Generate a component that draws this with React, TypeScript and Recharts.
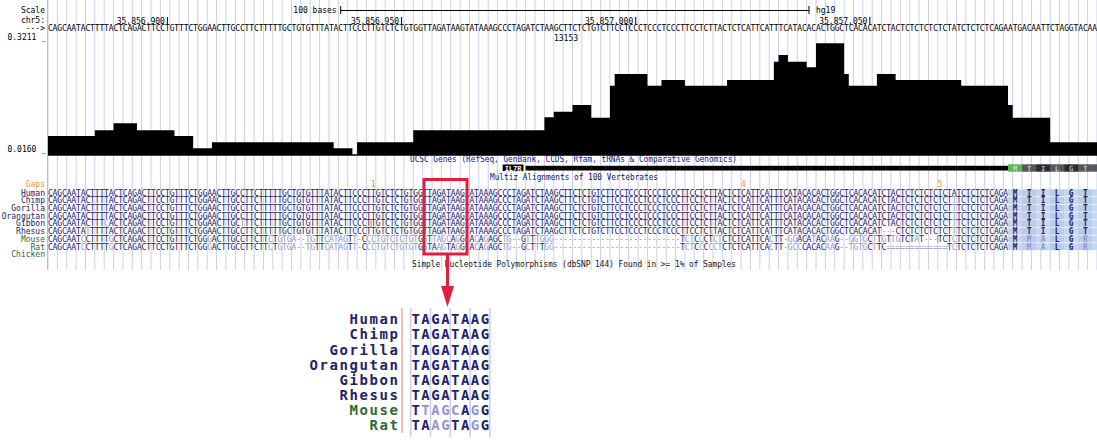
import React from 'react';
import { AreaChart, Area, XAxis, YAxis, CartesianGrid } from 'recharts';

const WIDTH = 1097;
const HEIGHT = 441;
const BASES = 224;
const CELL = 1049 / BASES;
const CDS_START = 205;

// conservation wiggle: step start (base offset from 35,856,875) and value
const consStarts = [0, 10, 14, 19, 27, 31, 35, 61, 65, 66, 78, 106, 108, 112, 116, 120, 121, 128, 131, 136, 145, 155, 156, 158, 162, 164, 170, 171, 177, 181, 195, 205, 206, 214, 224];
const consValues = [0.063, 0.0788, 0.0975, 0.0788, 0.063, 0.0296, 0.0459, 0.0296, 0.0133, 0.0459, 0.0788, 0.1138, 0.129, 0.1472, 0.1127, 0.1997, 0.2315, 0.1997, 0.2152, 0.1997, 0.2152, 0.2649, 0.2831, 0.2649, 0.2497, 0.3149, 0.2315, 0.1997, 0.2315, 0.2152, 0.1997, 0.1472, 0.1127, 0.0459, 0.0459];
const rangeValues = [0.3211, 0.016];
const rangeLabels = ['0.3211', '0.0160'];

const coordOffsets = [25, 75, 125, 175];
const coordLabels = ['35,856,900', '35,856,950', '35,857,000', '35,857,050'];

const humanSeq = [
  'CAGCAATACT', 'TTTACTCAGA', 'CTTCCTGTTT', 'CTGGAACTTG', 'CCTTCTTTTT', 'GCTGTGTTTA',
  'TACTTCCCTT', 'GTCTCTGTGG', 'TTAGATAAGT', 'ATAAAGCCCT', 'AGATCTAAGC', 'TTCTCTGTCT',
  'TCCTCCCTCC', 'CTCCCTTCCT', 'CTTACTCTCA', 'TTCATTTCAT', 'ACACACTGGC', 'TCACACATCT',
  'ACTCTCTCTC', 'TCTATCTCTC', 'TCAGAATGAC', 'AATTCTAGGT', 'ACAA',
].join('');

const mouseSeq = [
  'CAGCAATCCT', 'TTTGCTCAGA', 'CTTCCTGTTT', 'CTGGGACTTG', 'CCTTCTTCTG', 'TGA--TGTTC',
  'ATAGTT-CCCTGTCTCTGTGG', 'TTAGCAGG', 'CACAGAGCTG--GTTTGGG', '---------------------------',
  'TCTCCCTC', 'TCTCTCATTC', 'ACTT-GGACA', 'TACAAG--GG', 'TGCTTGTTGT', 'CTAT---TCT', 'CTCTCTCTCA', 'GA',
].join('');

const ratSeq = [
  'CAGCAATCCT', 'TTTGCTCAGA', 'CTTCCTGTTT', 'CTGGGACTTG', 'CCTTCTTCTG', 'TGA--TGTTC',
  'ATAGTT-CCCTGTCTGTGTGG', 'TAAGTAGG', 'CACAGAGCTG--GCTTTGG', '---------------------------',
  'TCTCCCCC', 'TCTCTCATTC', 'ACTT-GCCCA', 'CACAAG--TG', 'TGCTTC====', '=========T', 'CTCTCTCTCA', 'GA',
].join('');

const species = ['Human', 'Chimp', 'Gorilla', 'Orangutan', 'Gibbon', 'Rhesus', 'Mouse', 'Rat', 'Chicken'];
const greenSpecies = ['Mouse', 'Rat', 'Chicken'];
const speciesEdits: Record<string, [number, string][]> = {
  Human: [],
  Chimp: [[193, 'T']],
  Gorilla: [[193, 'T']],
  Orangutan: [[127, 'T'], [193, 'T']],
  Gibbon: [[12, 'C'], [41, 'T'], [193, 'T']],
  Rhesus: [[8, 'T'], [178, '---'], [193, 'T']],
};
const speciesAA: Record<string, string> = {
  Human: 'MTILGT', Chimp: 'MTILGT', Gorilla: 'MTILGT', Orangutan: 'MTILGT',
  Gibbon: 'MTILGT', Rhesus: 'MTILGT', Mouse: 'MMALGR', Rat: 'MMALGR', Chicken: '',
};
const insertRows = ['Gibbon', 'Mouse'];
const insertOffsets = [69, 190];
const gapOffsets = [69, 148, 190];
const gapCounts = ['1', '4', '5'];
const geneStart = 102;
const geneAA = 'MTILGT';

const boxStart = 81;
const boxLen = 8;

const applyEdits = (seq: string, edits: [number, string][]) =>
  edits.reduce((s, [o, t]) => s.slice(0, o) + t + s.slice(o + t.length), seq);

const alignSeqs = species.map((name) => {
  if (name === 'Mouse') return mouseSeq;
  if (name === 'Rat') return ratSeq;
  if (name === 'Chicken') return '';
  return applyEdits(humanSeq.slice(0, CDS_START), speciesEdits[name]);
});

const consData = consStarts.map((pos, k) => ({ pos, cons: consValues[k] }));
const baseTicks = Array.from({ length: BASES }, (_, i) => i + 0.5);
const gridTicks = Array.from({ length: BASES / 2 - 1 }, (_, i) => (i + 1) * 2);

const FONT = '"DejaVu Sans Mono", monospace';
const DARK = '#23236a';
const LIGHT = '#9595d0';
const GREEN = '#2e6b34';
const ORANGE = '#f0952a';
const GRID = '#cdcdf0';
const ROW0 = 192.7;
const ROWSTEP = 7.7;

const rowY = (r: number) => ROW0 + r * ROWSTEP;

const renderBaseTick = (props: any) => {
  const { x, payload } = props;
  const i = Math.floor(payload.value);
  const half = CELL / 2;
  const out: React.ReactNode[] = [];
  out.push(
    <text key="ruler" x={x} y={31} textAnchor="middle" fontFamily={FONT} fontSize={8} fill="#000">{humanSeq[i]}</text>
  );
  const c = coordOffsets.indexOf(i);
  if (c >= 0) {
    out.push(<text key="coord" x={x - 2.5} y={24} textAnchor="end" fontFamily={FONT} fontSize={8} fill="#000">{coordLabels[c]}</text>);
    out.push(<line key="coordbar" x1={x} x2={x} y1={17} y2={25} stroke="#000" strokeWidth={1} />);
  }
  if (i === 62) {
    const x2 = x + 100 * CELL;
    out.push(<text key="sc" x={x - 4} y={13} textAnchor="end" fontFamily={FONT} fontSize={8} fill="#000">100 bases</text>);
    out.push(<line key="sl" x1={x} x2={x2} y1={10.5} y2={10.5} stroke="#000" strokeWidth={1} />);
    out.push(<line key="sa" x1={x} x2={x} y1={6} y2={14} stroke="#000" strokeWidth={1} />);
    out.push(<line key="sb" x1={x2} x2={x2} y1={6} y2={14} stroke="#000" strokeWidth={1} />);
    out.push(<text key="hg" x={x2 + 7} y={13} fontFamily={FONT} fontSize={8} fill="#000">hg19</text>);
  }
  const g = gapOffsets.indexOf(i);
  if (g >= 0) {
    out.push(<text key="gap" x={x} y={187} textAnchor="middle" fontFamily={FONT} fontSize={8} fill={ORANGE}>{gapCounts[g]}</text>);
  }
  // gene track
  if (i >= geneStart && i < CDS_START) {
    out.push(<rect key="gene" x={x - half} y={165.8} width={CELL + 0.4} height={4.7} fill="#000" />);
  }
  if (i >= CDS_START) {
    const codon = Math.min(Math.floor((i - CDS_START) / 3), geneAA.length - 1);
    const fill = codon === 0 ? '#5ab54c' : codon % 2 === 1 ? '#575757' : '#2b2b2b';
    out.push(<rect key="cds" x={x - half} y={164.3} width={CELL + 0.4} height={7.4} fill={fill} />);
    if ((i - CDS_START) % 3 === 1 && codon < geneAA.length) {
      out.push(<text key="cdsaa" x={x} y={170.6} textAnchor="middle" fontFamily={FONT} fontSize={7} fill="#e6e6e6">{geneAA[codon]}</text>);
    }
  }
  species.forEach((name, r) => {
    const seq = alignSeqs[r];
    if (!seq) return;
    const y = rowY(r);
    if (i < CDS_START) {
      const ch = seq[i];
      const light = r > 0 && ch !== humanSeq[i];
      out.push(
        <text key={'s' + r} x={x} y={y + 2.9} textAnchor="middle" fontFamily={FONT} fontSize={8} fill={light ? LIGHT : DARK}>{ch}</text>
      );
    } else {
      const codon = Math.floor((i - CDS_START) / 3);
      out.push(<rect key={'bg' + r} x={x - half} y={y - 3.4} width={CELL + 0.4} height={7} fill={codon % 2 ? '#b9cdea' : '#c7d7ef'} />);
      const aa = speciesAA[name];
      if ((i - CDS_START) % 3 === 1 && codon < aa.length) {
        const light = aa[codon] !== speciesAA.Human[codon];
        out.push(
          <text key={'a' + r} x={x} y={y + 2.9} textAnchor="middle" fontFamily={FONT} fontSize={8} fontWeight="bold" fill={light ? LIGHT : DARK}>{aa[codon]}</text>
        );
      }
    }
    const ins = insertRows.indexOf(name);
    if (ins >= 0 && insertOffsets[ins] === i) {
      out.push(<line key={'ins' + r} x1={x - half} x2={x - half} y1={y - 3.5} y2={y + 3.5} stroke={ORANGE} strokeWidth={1.3} />);
    }
  });
  return <g>{out}</g>;
};

const renderEmptyTick = () => <g />;

const renderValueTick = (props: any) => {
  const { y, payload } = props;
  const k = rangeValues.findIndex((v) => Math.abs(v - payload.value) < 1e-9);
  return (
    <text x={46} y={y - 1.2} textAnchor="end" fontFamily={FONT} fontSize={8} fill="#000">{rangeLabels[k] + ' _'}</text>
  );
};

function Overlay() {
  const small = { fontFamily: FONT, fontSize: 8 };
  const zx = 410.7;
  const zw = 9.9;
  const zy0 = 319.3;
  const zdy = 15.1;
  const zoomRows = species.slice(0, 8);
  return (
    <svg width={WIDTH} height={HEIGHT} style={{ position: 'absolute', left: 0, top: 0 }}>
      <line x1={47.5} x2={47.5} y1={0} y2={270} stroke="#f4a6a6" strokeWidth={1} />
      <text x={45} y={13} textAnchor="end" fill="#000" {...small}>Scale</text>
      <text x={45} y={23} textAnchor="end" fill="#000" {...small}>chr5:</text>
      <text x={45} y={31} textAnchor="end" fill="#000" {...small}>---&gt;</text>
      <text x={566} y={41} textAnchor="middle" fill="#000" {...small}>13153</text>
      <text x={410} y={162} fill="#14147a" textLength={327} lengthAdjust="spacingAndGlyphs" {...small}>
        UCSC Genes (RefSeq, GenBank, CCDS, Rfam, tRNAs &amp; Comparative Genomics)
      </text>
      <rect x={502.7} y={164.5} width={20.8} height={6.6} fill="#000" />
      <text x={513.1} y={170.5} textAnchor="middle" fill="#fff" fontFamily={FONT} fontSize={7} fontWeight="bold">IL7R</text>
      <text x={490} y={179.5} fill="#101060" textLength={168} lengthAdjust="spacingAndGlyphs" {...small}>
        Multiz Alignments of 100 Vertebrates
      </text>
      <text x={45} y={187} textAnchor="end" fill={ORANGE} {...small}>Gaps</text>
      {species.map((name, r) => (
        <text key={name} x={45} y={rowY(r) + 2.9} textAnchor="end" fill={greenSpecies.includes(name) ? GREEN : DARK} {...small}>
          {name}
        </text>
      ))}
      <text x={412} y={267} fill="#111" textLength={324} lengthAdjust="spacingAndGlyphs" {...small}>
        Simple Nucleotide Polymorphisms (dbSNP 144) Found in &gt;= 1% of Samples
      </text>

      <rect x={424} y={179.5} width={43} height={74.5} fill="none" stroke="#e31e3c" strokeWidth={3} />
      <rect x={446} y={255} width={3} height={32} fill="#e31e3c" />
      <polygon points="441,286 454,286 447.5,307" fill="#e31e3c" />

      {[0, 2, 4, 6, 8].map((k) => (
        <line key={'zg' + k} x1={zx + k * zw} x2={zx + k * zw} y1={308} y2={437} stroke={GRID} strokeWidth={1.5} />
      ))}
      <line x1={402} x2={402} y1={308} y2={433} stroke="#f4a6a6" strokeWidth={1.5} />
      {zoomRows.map((name, r) => {
        const y = zy0 + r * zdy + 5;
        const seq = alignSeqs[r].slice(boxStart, boxStart + boxLen);
        const ref = humanSeq.slice(boxStart, boxStart + boxLen);
        return (
          <g key={'z' + name}>
            <text x={398} y={y} textAnchor="end" fontFamily={FONT} fontSize={14} fontWeight="bold"
              textLength={name.length * 10 - 1.5} lengthAdjust="spacing"
              fill={greenSpecies.includes(name) ? GREEN : DARK}>{name}</text>
            {seq.split('').map((ch, k) => (
              <text key={k} x={zx + k * zw + zw / 2} y={y} textAnchor="middle" fontFamily={FONT} fontSize={14} fontWeight="bold"
                fill={ch !== ref[k] ? LIGHT : DARK}>{ch}</text>
            ))}
          </g>
        );
      })}
    </svg>
  );
}

export default function App() {
  return (
    <div style={{ position: 'absolute', left: 0, top: 0, width: WIDTH, height: HEIGHT, background: '#fff' }}>
      <AreaChart width={WIDTH} height={HEIGHT} data={consData} margin={{ top: 0, right: 0, bottom: 169, left: 0 }}>
        <CartesianGrid xAxisId="g" yAxisId="v" horizontal={false} stroke={GRID} />
        <XAxis xAxisId="g" type="number" dataKey="pos" domain={[0, BASES]} ticks={gridTicks} interval={0}
          tick={renderEmptyTick} tickLine={false} axisLine={false} height={1} allowDataOverflow />
        <XAxis xAxisId="b" type="number" dataKey="pos" domain={[0, BASES]} ticks={baseTicks} interval={0}
          tick={renderBaseTick} tickLine={false} axisLine={false} height={1} allowDataOverflow />
        <YAxis yAxisId="v" type="number" domain={[-0.3011, 0.4325]} ticks={rangeValues} interval={0}
          width={48} tick={renderValueTick} tickLine={false} axisLine={false} allowDataOverflow />
        <Area xAxisId="g" yAxisId="v" type="stepAfter" dataKey="cons" baseValue={0.0095}
          fill="#000" fillOpacity={1} stroke="none" dot={false} activeDot={false} isAnimationActive={false} />
      </AreaChart>
      <Overlay />
    </div>
  );
}
